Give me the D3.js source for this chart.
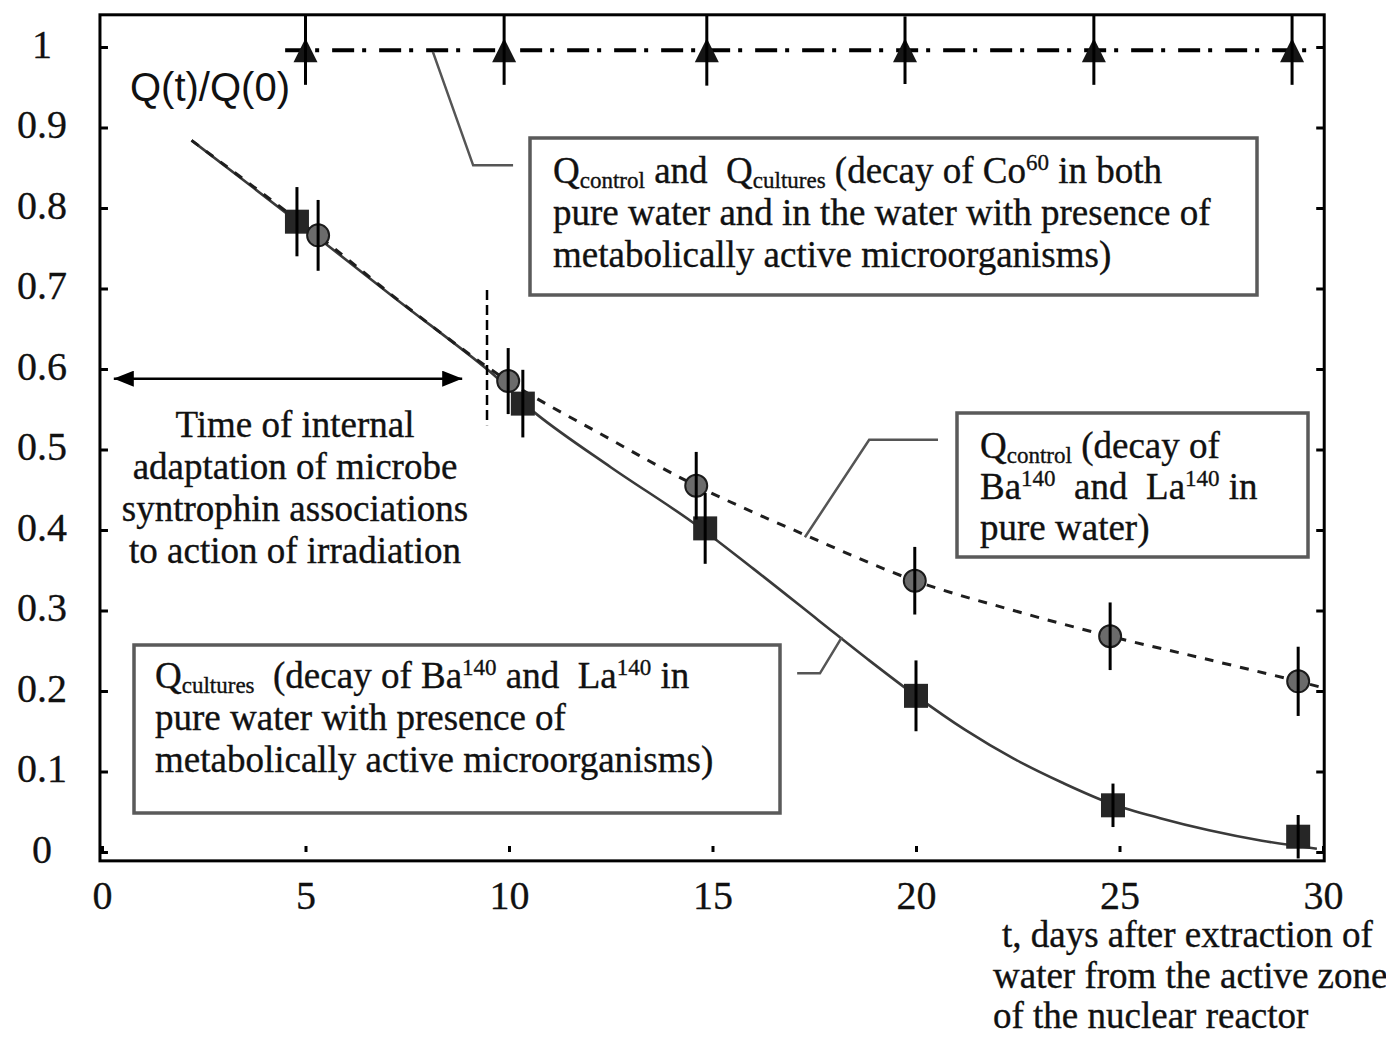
<!DOCTYPE html>
<html lang="en">
<head>
<meta charset="utf-8">
<title>Q(t)/Q(0)</title>
<script src="https://d3js.org/d3.v7.min.js"></script>
<style>
    body { margin: 0; background-color: #ffffff; }
    svg { display: block; font-family: "Liberation Serif", "Times New Roman", serif; }
    .tick text { font-family: "Liberation Serif", "Times New Roman", serif; }
    .note { fill: #111; stroke: #111; stroke-width: 0.35px; white-space: pre; }
</style>
</head>
<body>
<div id="chart"></div>
<script>
"use strict";

// ---- data ----
var xTicks = [0, 5, 10, 15, 20, 25, 30];
var xTickLabels = ["0", "5", "10", "15", "20", "25", "30"];
var yTicks = [0, 0.1, 0.2, 0.3, 0.4, 0.5, 0.6, 0.7, 0.8, 0.9, 1];
var yTickLabels = ["0", "0.1", "0.2", "0.3", "0.4", "0.5", "0.6", "0.7", "0.8", "0.9", "1"];

// Co60, control and cultures (triangles)
var coTime = [5.0, 9.88, 14.86, 19.73, 24.37, 29.24];
var coValue = [0.996, 0.996, 0.996, 0.996, 0.996, 0.996];
var coError = [0.043, 0.043, 0.044, 0.042, 0.043, 0.043];
var coLineTime = [4.5, 29.85];
var coLineValue = [0.996, 0.996];

// Ba140 / La140 control (circles, dashed)
var controlTime = [5.31, 9.98, 14.6, 19.97, 24.77, 29.39];
var controlValue = [0.766, 0.585, 0.455, 0.337, 0.268, 0.212];
var controlError = [0.044, 0.041, 0.042, 0.042, 0.042, 0.043];
var controlFitTime = [2.2, 5.3, 7.6, 9.98, 12.3, 14.6, 17.27, 19.97, 22.4, 24.77, 27.1, 29.39, 30.0];
var controlFitValue = [0.884, 0.766, 0.673, 0.585, 0.518, 0.455, 0.394, 0.337, 0.3, 0.268, 0.24, 0.212, 0.204];

// Ba140 / La140 cultures (squares, solid)
var culturesTime = [4.79, 10.34, 14.82, 20.0, 24.84, 29.39];
var culturesValue = [0.783, 0.557, 0.402, 0.194, 0.058, 0.019];
var culturesError = [0.043, 0.042, 0.044, 0.044, 0.027, 0.027];
var culturesFitTime = [2.2, 4.8, 7.2, 9.5, 10.7, 12.5, 14.5, 16.0, 17.6, 18.8, 20.0, 21.2, 22.4, 23.6, 24.8, 26.0, 27.2, 28.5, 29.85];
var culturesFitValue = [0.884, 0.783, 0.688, 0.598, 0.543, 0.478, 0.41, 0.352, 0.288, 0.24, 0.194, 0.152, 0.116, 0.086, 0.06, 0.042, 0.027, 0.014, 0.004];

// annotations (in data units)
var adaptTime = [0.29, 8.85];
var adaptValue = 0.588;
var adaptEndTime = 9.46;
var adaptEndValue = [0.53, 0.698];
var leaderCoTime = [8.13, 9.12, 10.1];
var leaderCoValue = [0.994, 0.853, 0.853];
var leaderControlTime = [17.27, 18.85, 20.54];
var leaderControlValue = [0.391, 0.512, 0.512];
var leaderCulturesTime = [18.18, 17.64, 17.08];
var leaderCulturesValue = [0.267, 0.222, 0.222];

// ---- layout ----
var svg_width = 1386;
var svg_height = 1038;
var fontSize = 37;

var svg = d3.select("#chart").append("svg")
    .attr("width", svg_width)
    .attr("height", svg_height);

var x = d3.scaleLinear().domain([0, 30]).range([102, 1323]);
var y = d3.scaleLinear().domain([0, 1]).range([852, 47]);

var frameX = [x(-0.05), x(30.03)];
var frameY = [y(1.04), y(-0.011)];

function pts(tArr, vArr) {
    return tArr.map(function(t, i) { return [t, vArr[i]]; });
}

// axes
var leftAxis = d3.axisLeft(y)
    .tickValues(yTicks)
    .tickFormat(function(d, i) { return yTickLabels[i]; })
    .tickSize(-8)
    .tickPadding(58);
var gLeft = svg.append("g")
    .attr("transform", "translate(" + frameX[0] + ",0)")
    .call(leftAxis);
gLeft.selectAll("text").attr("text-anchor", "middle").attr("dy", "0.25em");

var rightAxis = d3.axisRight(y)
    .tickValues(yTicks)
    .tickFormat("")
    .tickSize(-8);
var gRight = svg.append("g")
    .attr("transform", "translate(" + frameX[1] + ",0)")
    .call(rightAxis);

var bottomAxis = d3.axisBottom(x)
    .tickValues(xTicks)
    .tickFormat(function(d, i) { return xTickLabels[i]; })
    .tickSize(-6)
    .tickPadding(29);
var gBottom = svg.append("g")
    .attr("transform", "translate(0," + y(0) + ")")
    .call(bottomAxis);

[gLeft, gRight, gBottom].forEach(function(g) {
    g.select(".domain").remove();
    g.selectAll(".tick line").attr("stroke", "#000").attr("stroke-width", 3);
    g.selectAll(".tick text").style("font-size", "40px").attr("fill", "#111")
        .attr("stroke", "#111").attr("stroke-width", 0.3);
});

// frame
svg.append("rect")
    .attr("x", frameX[0])
    .attr("y", frameY[0])
    .attr("width", frameX[1] - frameX[0])
    .attr("height", frameY[1] - frameY[0])
    .attr("fill", "none")
    .attr("stroke", "#000")
    .attr("stroke-width", 3);

var line = d3.line()
    .x(function(d) { return x(d[0]); })
    .y(function(d) { return y(d[1]); });
var smooth = d3.line()
    .x(function(d) { return x(d[0]); })
    .y(function(d) { return y(d[1]); })
    .curve(d3.curveCatmullRom.alpha(0.5));

// fitted curves
svg.append("path")
    .attr("d", smooth(pts(culturesFitTime, culturesFitValue)))
    .attr("fill", "none")
    .attr("stroke", "#3a3a3a")
    .attr("stroke-width", 2.6);
svg.append("path")
    .attr("d", smooth(pts(controlFitTime, controlFitValue)))
    .attr("fill", "none")
    .attr("stroke", "#1e1e1e")
    .attr("stroke-width", 3)
    .attr("stroke-dasharray", "9,9");
svg.append("path")
    .attr("d", line(pts(coLineTime, coLineValue)))
    .attr("fill", "none")
    .attr("stroke", "#000")
    .attr("stroke-width", 4)
    .attr("stroke-dasharray", "22,8,4,13");

// markers
svg.selectAll(".tri")
    .data(pts(coTime, coValue))
    .enter()
    .append("path")
    .attr("class", "tri")
    .attr("d", "M0,-12L12,12L-12,12Z")
    .attr("transform", function(d) { return "translate(" + x(d[0]) + "," + y(d[1]) + ")"; })
    .attr("fill", "#151515");

svg.selectAll(".sq")
    .data(pts(culturesTime, culturesValue))
    .enter()
    .append("rect")
    .attr("class", "sq")
    .attr("x", function(d) { return x(d[0]) - 12; })
    .attr("y", function(d) { return y(d[1]) - 12; })
    .attr("width", 24)
    .attr("height", 24)
    .attr("fill", "#262626");

svg.selectAll(".dot")
    .data(pts(controlTime, controlValue))
    .enter()
    .append("circle")
    .attr("class", "dot")
    .attr("cx", function(d) { return x(d[0]); })
    .attr("cy", function(d) { return y(d[1]); })
    .attr("r", 11)
    .attr("fill", "#6b6b6b")
    .attr("stroke", "#1c1c1c")
    .attr("stroke-width", 2);

// error bars on top of the markers
function errorBars(tArr, vArr, eArr) {
    svg.append("g").selectAll("line")
        .data(tArr.map(function(t, i) { return [t, vArr[i], eArr[i]]; }))
        .enter()
        .append("line")
        .attr("x1", function(d) { return x(d[0]); })
        .attr("x2", function(d) { return x(d[0]); })
        .attr("y1", function(d) { return y(d[1] + d[2]); })
        .attr("y2", function(d) { return y(d[1] - d[2]); })
        .attr("stroke", "#000")
        .attr("stroke-width", 3);
}
errorBars(coTime, coValue, coError);
errorBars(controlTime, controlValue, controlError);
errorBars(culturesTime, culturesValue, culturesError);

// adaptation arrow and marker line
svg.append("defs").append("marker")
    .attr("id", "arrowhead")
    .attr("viewBox", "0 0 20 16")
    .attr("refX", 20)
    .attr("refY", 8)
    .attr("markerWidth", 20)
    .attr("markerHeight", 16)
    .attr("markerUnits", "userSpaceOnUse")
    .attr("orient", "auto-start-reverse")
    .append("path")
    .attr("d", "M0,0L20,8L0,16Z")
    .attr("fill", "#000");

svg.append("line")
    .attr("x1", x(adaptTime[0]))
    .attr("x2", x(adaptTime[1]))
    .attr("y1", y(adaptValue))
    .attr("y2", y(adaptValue))
    .attr("stroke", "#000")
    .attr("stroke-width", 2.5)
    .attr("marker-start", "url(#arrowhead)")
    .attr("marker-end", "url(#arrowhead)");

svg.append("line")
    .attr("x1", x(adaptEndTime))
    .attr("x2", x(adaptEndTime))
    .attr("y1", y(adaptEndValue[1]))
    .attr("y2", y(adaptEndValue[0]))
    .attr("stroke", "#000")
    .attr("stroke-width", 2.5)
    .attr("stroke-dasharray", "10,5");

// leader lines to the boxes
[[leaderCoTime, leaderCoValue], [leaderControlTime, leaderControlValue], [leaderCulturesTime, leaderCulturesValue]]
    .forEach(function(l) {
        svg.append("path")
            .attr("d", line(pts(l[0], l[1])))
            .attr("fill", "none")
            .attr("stroke", "#555")
            .attr("stroke-width", 2.5);
    });

// text helpers
function richLine(x0, yb, parts) {
    var t = svg.append("text")
        .attr("class", "note")
        .attr("x", x0)
        .attr("y", yb)
        .style("font-size", fontSize + "px");
    var shift = 0;
    parts.forEach(function(p) {
        var target = 0, txt = p, fs = fontSize;
        if (typeof p === "object") {
            if (p.sub) { target = 5; txt = p.sub; fs = 23; }
            else { target = -13; txt = p.sup; fs = 23; }
        }
        t.append("tspan").attr("dy", target - shift).style("font-size", fs + "px").text(txt);
        shift = target;
    });
}

function box(x0, y0, w, h) {
    svg.append("rect")
        .attr("x", x0).attr("y", y0)
        .attr("width", w).attr("height", h)
        .attr("fill", "#fff")
        .attr("stroke", "#5a5a5a")
        .attr("stroke-width", 3.5);
}

box(530, 138, 727, 157);
richLine(553, 183, ["Q", {sub: "control"}, " and  Q", {sub: "cultures"}, " (decay of Co", {sup: "60"}, " in both"]);
richLine(553, 225, ["pure water and in the water with presence of"]);
richLine(553, 267, ["metabolically active microorganisms)"]);

box(957, 413, 351, 144);
richLine(980, 458, ["Q", {sub: "control"}, " (decay of"]);
richLine(980, 499, ["Ba", {sup: "140"}, "  and  La", {sup: "140"}, " in"]);
richLine(980, 540, ["pure water)"]);

box(134, 645, 646, 168);
richLine(155, 688, ["Q", {sub: "cultures"}, "  (decay of Ba", {sup: "140"}, " and  La", {sup: "140"}, " in"]);
richLine(155, 730, ["pure water with presence of"]);
richLine(155, 772, ["metabolically active microorganisms)"]);

// adaptation note
["Time of internal", "adaptation of microbe", "syntrophin associations", "to action of irradiation"]
    .forEach(function(s, i) {
        svg.append("text")
            .attr("class", "note")
            .attr("x", 295)
            .attr("y", 437 + i * 42)
            .attr("text-anchor", "middle")
            .style("font-size", fontSize + "px")
            .text(s);
    });

// y label
svg.append("text")
    .attr("x", 130)
    .attr("y", 101)
    .style("font-family", "'Liberation Sans', Arial, sans-serif")
    .style("font-size", "40px")
    .attr("fill", "#111")
    .text("Q(t)/Q(0)");

// x label
[["t, days after extraction of", 1002], ["water from the active zone", 993], ["of the nuclear reactor", 993]]
    .forEach(function(s, i) {
        svg.append("text")
            .attr("class", "note")
            .attr("x", s[1])
            .attr("y", 947 + i * 40.5)
            .style("font-size", fontSize + "px")
            .text(s[0]);
    });
</script>
</body>
</html>
